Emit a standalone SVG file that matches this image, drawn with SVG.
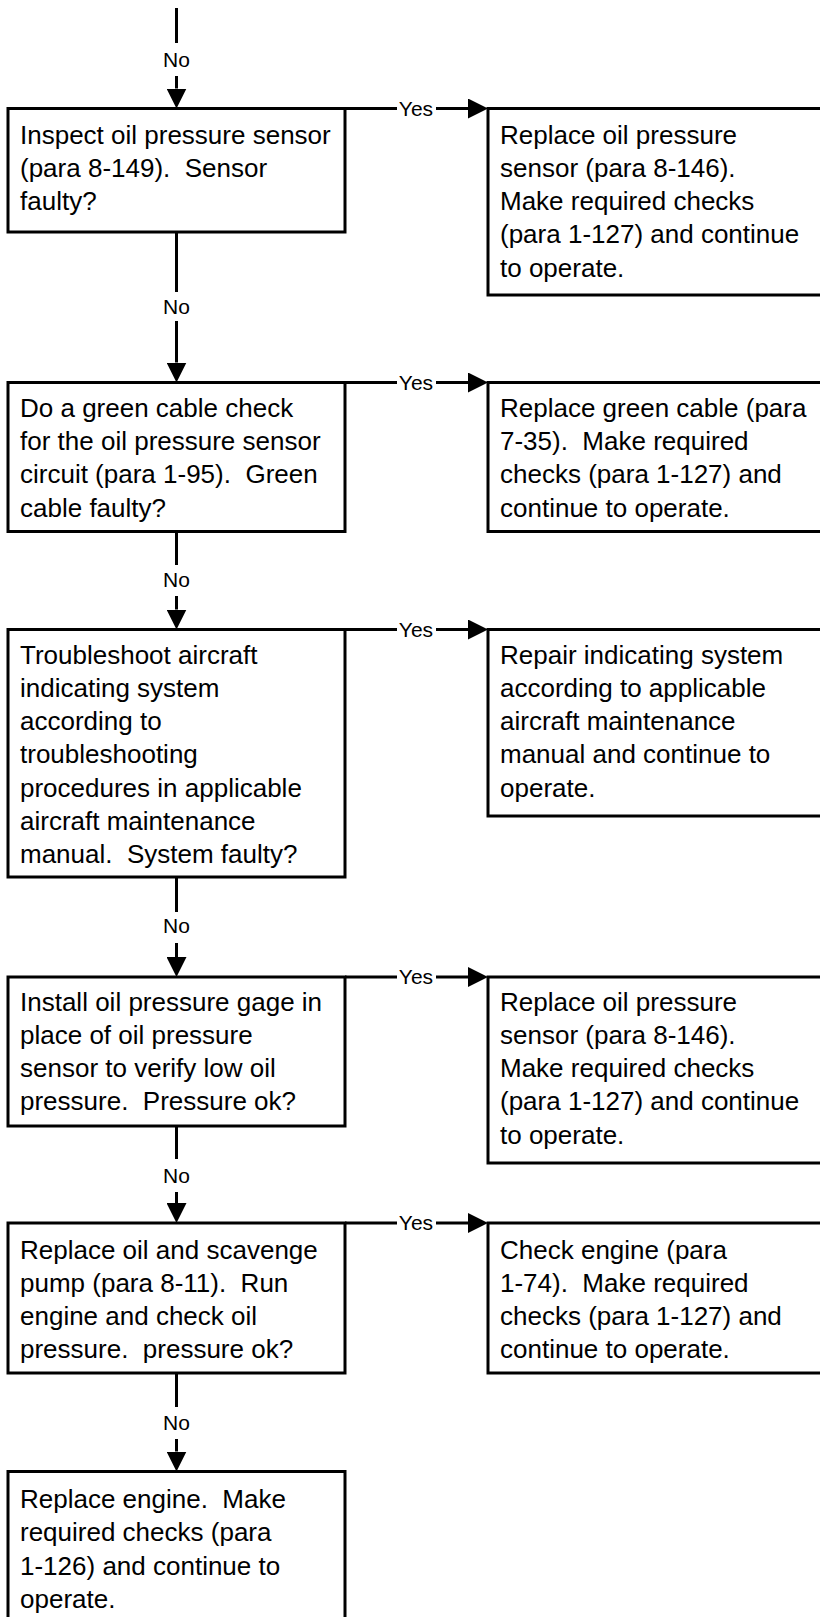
<svg xmlns="http://www.w3.org/2000/svg" width="820" height="1617" viewBox="0 0 820 1617">
  <style>
    .box { fill: #ffffff; stroke: #000000; stroke-width: 3; }
    .txt { font-family: "Liberation Sans", Arial, Helvetica, sans-serif; font-size: 26px; fill: #000000; white-space: pre; }
    .lbl { font-family: "Liberation Sans", Arial, Helvetica, sans-serif; font-size: 21px; fill: #000000; text-anchor: middle; }
    .ln { fill: none; stroke: #000000; stroke-width: 3; }
  </style>
  <defs>
    <marker id="head" markerUnits="userSpaceOnUse" markerWidth="20" markerHeight="20" viewBox="0 0 20 20" refX="0" refY="10" orient="auto">
      <path d="M0,0 L20,10 L0,20 Z" fill="#000000"/>
    </marker>
  </defs>
  <rect width="820" height="1617" fill="#ffffff"/>

  <!-- connectors -->
  <g id="connectors">
    <!-- No branches (vertical) -->
    <path class="ln" d="M176.5,8 V43"/>
    <path class="ln" d="M176.5,76 V88.5" marker-end="url(#head)"/>
    <text class="lbl" x="176.5" y="67">No</text>

    <path class="ln" d="M176.5,232 V292"/>
    <path class="ln" d="M176.5,321 V362.5" marker-end="url(#head)"/>
    <text class="lbl" x="176.5" y="314">No</text>

    <path class="ln" d="M176.5,531.5 V565"/>
    <path class="ln" d="M176.5,596 V609.5" marker-end="url(#head)"/>
    <text class="lbl" x="176.5" y="587">No</text>

    <path class="ln" d="M176.5,877 V912"/>
    <path class="ln" d="M176.5,943 V957" marker-end="url(#head)"/>
    <text class="lbl" x="176.5" y="933">No</text>

    <path class="ln" d="M176.5,1126 V1159"/>
    <path class="ln" d="M176.5,1192 V1203" marker-end="url(#head)"/>
    <text class="lbl" x="176.5" y="1183">No</text>

    <path class="ln" d="M176.5,1373 V1407"/>
    <path class="ln" d="M176.5,1439 V1451.5" marker-end="url(#head)"/>
    <text class="lbl" x="176.5" y="1430">No</text>

    <!-- Yes branches (horizontal) -->
    <path class="ln" d="M345,108.5 H397"/>
    <path class="ln" d="M436,108.5 H468" marker-end="url(#head)"/>
    <text class="lbl" x="416" y="115.5">Yes</text>

    <path class="ln" d="M345,382.5 H397"/>
    <path class="ln" d="M436,382.5 H468" marker-end="url(#head)"/>
    <text class="lbl" x="416" y="389.5">Yes</text>

    <path class="ln" d="M345,629.5 H397"/>
    <path class="ln" d="M436,629.5 H468" marker-end="url(#head)"/>
    <text class="lbl" x="416" y="636.5">Yes</text>

    <path class="ln" d="M345,977 H397"/>
    <path class="ln" d="M436,977 H468" marker-end="url(#head)"/>
    <text class="lbl" x="416" y="984">Yes</text>

    <path class="ln" d="M345,1223 H397"/>
    <path class="ln" d="M436,1223 H468" marker-end="url(#head)"/>
    <text class="lbl" x="416" y="1230">Yes</text>
  </g>

  <!-- row 1 -->
  <g id="inspect-sensor">
    <rect class="box" x="8" y="108.5" width="337" height="123.5"/>
    <text class="txt" x="20" y="143.5"><tspan x="20">Inspect oil pressure sensor</tspan><tspan x="20" dy="33.3">(para 8-149).  Sensor</tspan><tspan x="20" dy="33.3">faulty?</tspan></text>
  </g>
  <g id="replace-sensor-1">
    <rect class="box" x="488" y="108.5" width="345" height="186.5"/>
    <text class="txt" x="500" y="143.5"><tspan x="500">Replace oil pressure</tspan><tspan x="500" dy="33.3">sensor (para 8-146).</tspan><tspan x="500" dy="33.3">Make required checks</tspan><tspan x="500" dy="33.3">(para 1-127) and continue</tspan><tspan x="500" dy="33.3">to operate.</tspan></text>
  </g>

  <!-- row 2 -->
  <g id="green-cable-check">
    <rect class="box" x="8" y="382.5" width="337" height="149"/>
    <text class="txt" x="20" y="416.7"><tspan x="20">Do a green cable check</tspan><tspan x="20" dy="33.3">for the oil pressure sensor</tspan><tspan x="20" dy="33.3">circuit (para 1-95).  Green</tspan><tspan x="20" dy="33.3">cable faulty?</tspan></text>
  </g>
  <g id="replace-green-cable">
    <rect class="box" x="488" y="382.5" width="345" height="149"/>
    <text class="txt" x="500" y="416.7"><tspan x="500">Replace green cable (para</tspan><tspan x="500" dy="33.3">7-35).  Make required</tspan><tspan x="500" dy="33.3">checks (para 1-127) and</tspan><tspan x="500" dy="33.3">continue to operate.</tspan></text>
  </g>

  <!-- row 3 -->
  <g id="troubleshoot-indicating">
    <rect class="box" x="8" y="629.5" width="337" height="247.5"/>
    <text class="txt" x="20" y="663.5"><tspan x="20">Troubleshoot aircraft</tspan><tspan x="20" dy="33.3">indicating system</tspan><tspan x="20" dy="33.3">according to</tspan><tspan x="20" dy="33.3">troubleshooting</tspan><tspan x="20" dy="33.3">procedures in applicable</tspan><tspan x="20" dy="33.3">aircraft maintenance</tspan><tspan x="20" dy="33.3">manual.  System faulty?</tspan></text>
  </g>
  <g id="repair-indicating">
    <rect class="box" x="488" y="629.5" width="345" height="186.5"/>
    <text class="txt" x="500" y="663.5"><tspan x="500">Repair indicating system</tspan><tspan x="500" dy="33.3">according to applicable</tspan><tspan x="500" dy="33.3">aircraft maintenance</tspan><tspan x="500" dy="33.3">manual and continue to</tspan><tspan x="500" dy="33.3">operate.</tspan></text>
  </g>

  <!-- row 4 -->
  <g id="install-gage">
    <rect class="box" x="8" y="977" width="337" height="149"/>
    <text class="txt" x="20" y="1010.5"><tspan x="20">Install oil pressure gage in</tspan><tspan x="20" dy="33.3">place of oil pressure</tspan><tspan x="20" dy="33.3">sensor to verify low oil</tspan><tspan x="20" dy="33.3">pressure.  Pressure ok?</tspan></text>
  </g>
  <g id="replace-sensor-2">
    <rect class="box" x="488" y="977" width="345" height="186"/>
    <text class="txt" x="500" y="1010.5"><tspan x="500">Replace oil pressure</tspan><tspan x="500" dy="33.3">sensor (para 8-146).</tspan><tspan x="500" dy="33.3">Make required checks</tspan><tspan x="500" dy="33.3">(para 1-127) and continue</tspan><tspan x="500" dy="33.3">to operate.</tspan></text>
  </g>

  <!-- row 5 -->
  <g id="replace-pump">
    <rect class="box" x="8" y="1223" width="337" height="150"/>
    <text class="txt" x="20" y="1258.5"><tspan x="20">Replace oil and scavenge</tspan><tspan x="20" dy="33.3">pump (para 8-11).  Run</tspan><tspan x="20" dy="33.3">engine and check oil</tspan><tspan x="20" dy="33.3">pressure.  pressure ok?</tspan></text>
  </g>
  <g id="check-engine">
    <rect class="box" x="488" y="1223" width="345" height="150"/>
    <text class="txt" x="500" y="1258.5"><tspan x="500">Check engine (para</tspan><tspan x="500" dy="33.3">1-74).  Make required</tspan><tspan x="500" dy="33.3">checks (para 1-127) and</tspan><tspan x="500" dy="33.3">continue to operate.</tspan></text>
  </g>

  <!-- row 6 -->
  <g id="replace-engine">
    <rect class="box" x="8" y="1471.5" width="337" height="170"/>
    <text class="txt" x="20" y="1508"><tspan x="20">Replace engine.  Make</tspan><tspan x="20" dy="33.3">required checks (para</tspan><tspan x="20" dy="33.3">1-126) and continue to</tspan><tspan x="20" dy="33.3">operate.</tspan></text>
  </g>
</svg>
